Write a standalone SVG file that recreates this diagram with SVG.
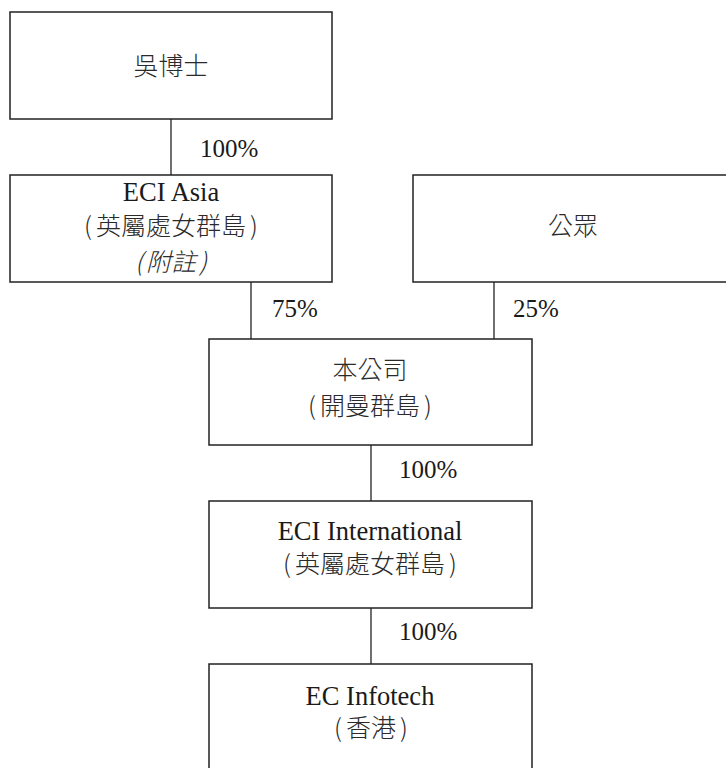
<svg xmlns="http://www.w3.org/2000/svg" width="726" height="768" viewBox="0 0 726 768">
<style>
.box{fill:#fff;stroke:#222;stroke-width:1.5}
.ln{stroke:#333;stroke-width:1.4;fill:none}
text{font-family:"Liberation Serif","Noto Sans CJK TC",serif;font-size:25px;fill:#1a1a1a}
.c{text-anchor:middle}
.it{font-style:italic}
.en{font-size:26.5px}
.zh{font-family:"Noto Sans CJK TC","Liberation Serif",sans-serif;font-weight:300;fill:#2a2a2a}
</style>
<rect width="726" height="768" fill="#fff"/>
<g id="connectors">
<line class="ln" x1="171" y1="119" x2="171" y2="175"/>
<line class="ln" x1="251" y1="282" x2="251" y2="339"/>
<line class="ln" x1="494" y1="282" x2="494" y2="339"/>
<line class="ln" x1="371" y1="445" x2="371" y2="501"/>
<line class="ln" x1="371" y1="608" x2="371" y2="664"/>
<text x="200" y="157">100%</text>
<text x="272" y="317">75%</text>
<text x="513" y="317">25%</text>
<text x="399" y="478">100%</text>
<text x="399" y="640">100%</text>
</g>
<g id="dr_ng">
<rect class="box" x="10" y="12" width="322" height="107"/>
<text class="c zh" x="171" y="75">吳博士</text>
</g>
<g id="eci_asia">
<rect class="box" x="10" y="175" width="322" height="107"/>
<text class="c en" x="171" y="201">ECI Asia</text>
<text class="c zh" x="171" y="235">(<tspan dx="4">英屬處女群島</tspan><tspan dx="4">)</tspan></text>
<text class="c zh it" x="171" y="271">(<tspan dx="3">附註</tspan><tspan dx="3">)</tspan></text>
</g>
<g id="public">
<rect class="box" x="413" y="175" width="320" height="107"/>
<text class="c zh" x="573" y="235">公眾</text>
</g>
<g id="company">
<rect class="box" x="209" y="339" width="323" height="106"/>
<text class="c zh" x="370" y="379">本公司</text>
<text class="c zh" x="370" y="415">(<tspan dx="4">開曼群島</tspan><tspan dx="4">)</tspan></text>
</g>
<g id="eci_international">
<rect class="box" x="209" y="501" width="323" height="107"/>
<text class="c en" x="370" y="540">ECI International</text>
<text class="c zh" x="370" y="573">(<tspan dx="4">英屬處女群島</tspan><tspan dx="4">)</tspan></text>
</g>
<g id="ec_infotech">
<rect class="box" x="209" y="664" width="323" height="110"/>
<text class="c en" x="370" y="705">EC Infotech</text>
<text class="c zh" x="371" y="737">(<tspan dx="4">香港</tspan><tspan dx="4">)</tspan></text>
</g>
</svg>
